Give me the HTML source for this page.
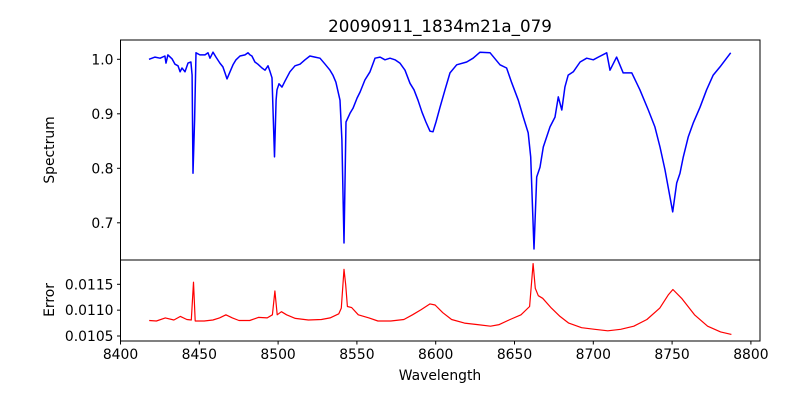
<!DOCTYPE html>
<html><head><meta charset="utf-8"><style>
body{margin:0;background:#fff;}
svg{display:block;font-family:"DejaVu Sans","Liberation Sans",sans-serif;}
</style></head><body>
<svg id="chart" width="800" height="400" viewBox="0 0 800 400" xmlns="http://www.w3.org/2000/svg">
<rect width="800" height="400" fill="#fff"/>
<text x="440" y="32" text-anchor="middle" font-size="16.7">20090911_1834m21a_079</text>
<g id="topg"></g><g id="botg"></g>
<text transform="translate(54,150) rotate(-90)" text-anchor="middle" font-size="13.9">Spectrum</text>
<text transform="translate(54,300) rotate(-90)" text-anchor="middle" font-size="13.9">Error</text>
<text x="440" y="380" text-anchor="middle" font-size="13.9">Wavelength</text>
</svg>
<script>
const specWave=[8418.1,8421.9,8425.1,8428.2,8428.9,8430.1,8432.7,8434.6,8436.5,8437.8,8439.0,8440.9,8442.8,8444.7,8445.4,8446.0,8447.0,8447.9,8450.4,8453.6,8455.5,8456.8,8458.7,8460.6,8463.1,8465.0,8466.3,8467.6,8469.5,8471.4,8473.3,8475.8,8479.0,8480.9,8482.2,8483.4,8485.3,8487.2,8489.8,8491.7,8493.6,8494.9,8496.1,8497.7,8498.7,8499.3,8500.6,8502.5,8504.4,8507.5,8510.7,8513.9,8517.1,8520.2,8523.4,8526.6,8529.8,8532.9,8534.8,8536.7,8539.3,8540.5,8541.8,8543.1,8545.6,8547.5,8550.1,8552.0,8555.1,8558.3,8561.5,8564.7,8567.8,8571.0,8574.2,8577.3,8580.5,8583.7,8586.2,8588.8,8591.3,8593.8,8596.4,8598.3,8600.2,8602.7,8605.9,8609.1,8613.3,8619.7,8623.7,8628.1,8634.5,8640.8,8645.0,8648.2,8652.4,8655.6,8658.7,8660.3,8662.4,8664.1,8666.2,8668.3,8672.5,8675.7,8677.8,8680.0,8682.0,8684.1,8687.3,8691.6,8695.8,8700.0,8703.2,8708.5,8710.6,8714.8,8719.0,8724.4,8729.6,8734.9,8739.1,8742.3,8745.5,8750.4,8752.9,8755.0,8757.1,8760.3,8763.4,8767.7,8771.9,8776.1,8780.4,8784.6,8787.2];
const specFlux=[1.000,1.004,1.002,1.006,0.993,1.008,1.001,0.991,0.988,0.977,0.984,0.977,0.993,0.995,0.971,0.791,0.889,1.012,1.008,1.008,1.012,1.002,1.013,1.004,0.993,0.986,0.975,0.964,0.977,0.990,0.999,1.006,1.008,1.012,1.008,1.006,0.995,0.991,0.984,0.980,0.988,0.977,0.966,0.821,0.925,0.944,0.955,0.949,0.960,0.977,0.988,0.991,0.999,1.006,1.004,1.002,0.991,0.980,0.971,0.958,0.925,0.852,0.663,0.885,0.901,0.910,0.929,0.940,0.962,0.977,1.002,1.004,0.999,1.002,0.999,0.993,0.980,0.956,0.944,0.925,0.903,0.885,0.868,0.867,0.885,0.912,0.944,0.975,0.990,0.995,1.002,1.013,1.012,0.990,0.984,0.957,0.925,0.894,0.865,0.821,0.652,0.784,0.802,0.839,0.876,0.894,0.931,0.907,0.949,0.971,0.977,0.995,1.002,0.999,1.004,1.012,0.980,1.004,0.975,0.975,0.944,0.907,0.876,0.839,0.797,0.720,0.773,0.791,0.821,0.858,0.883,0.912,0.944,0.971,0.986,1.002,1.012];
const errWave=[8418.2,8422.8,8428.4,8433.9,8438.0,8442.1,8444.9,8446.3,8447.4,8453.1,8458.6,8462.8,8466.9,8471.0,8475.2,8482.0,8487.5,8493.1,8496.4,8498.0,8499.4,8502.1,8505.4,8510.9,8519.2,8527.5,8533.0,8538.5,8540.1,8541.8,8542.9,8544.0,8546.7,8550.9,8557.7,8563.3,8571.5,8579.8,8585.3,8590.8,8596.4,8599.6,8604.5,8610.1,8618.3,8626.6,8634.8,8640.3,8647.2,8654.1,8659.6,8661.8,8663.2,8665.1,8667.9,8673.4,8678.9,8684.4,8692.6,8700.9,8709.2,8717.4,8725.7,8734.0,8742.2,8747.7,8750.5,8756.0,8764.2,8772.5,8780.8,8787.6];
const errVal=[0.01080,0.01079,0.01085,0.01081,0.01088,0.01082,0.01081,0.01154,0.01079,0.01079,0.01081,0.01085,0.01091,0.01085,0.01080,0.01080,0.01086,0.01085,0.01091,0.01137,0.01091,0.01097,0.01091,0.01084,0.01081,0.01082,0.01085,0.01093,0.01104,0.01179,0.01149,0.01107,0.01105,0.01091,0.01085,0.01079,0.01079,0.01082,0.01091,0.01101,0.01112,0.01110,0.01095,0.01082,0.01075,0.01072,0.01069,0.01072,0.01082,0.01091,0.01107,0.01190,0.01142,0.01128,0.01123,0.01104,0.01088,0.01075,0.01066,0.01063,0.01060,0.01063,0.01069,0.01082,0.01104,0.01130,0.01140,0.01123,0.01091,0.01069,0.01058,0.01053];
const xTicks=[8400,8450,8500,8550,8600,8650,8700,8750,8800];
const topTicks=[0.7,0.8,0.9,1.0];
const topTickLabels=["0.7","0.8","0.9","1.0"];
const botTicks=[0.0105,0.0110,0.0115];
const botTickLabels=["0.0105","0.0110","0.0115"];

const NS="http://www.w3.org/2000/svg";
const L=120.5,R=760,T1=40,B1=260,T2=260,B2=341;
const xs=v=>120.5+(v-8400)*1.576;
const ys1=v=>59.3+(1.0-v)*545;
const ys2=v=>284.3+(0.0115-v)*51700;
function mk(tag,attrs,parent){const e=document.createElementNS(NS,tag);for(const k in attrs)e.setAttribute(k,attrs[k]);parent.appendChild(e);return e;}
const gTop=document.getElementById('topg'),gBot=document.getElementById('botg');
let d=specWave.map((w,i)=>(i?'L':'M')+xs(w).toFixed(1)+','+ys1(specFlux[i]).toFixed(1)).join('');
const p1=mk('path',{d:d,fill:'none',stroke:'#0000ff','stroke-width':1.5,'stroke-linejoin':'round'},gTop);


d=errWave.map((w,i)=>(i?'L':'M')+xs(w).toFixed(1)+','+ys2(errVal[i]).toFixed(1)).join('');
const p2=mk('path',{d:d,fill:'none',stroke:'#ff0000','stroke-width':1.2,'stroke-linejoin':'round'},gBot);


const f1=mk('rect',{x:L,y:T1,width:R-L,height:B1-T1,fill:'none',stroke:'#000','stroke-width':1},gTop);


const f2=mk('rect',{x:L,y:T2,width:R-L,height:B2-T2,fill:'none',stroke:'#000','stroke-width':1},gBot);


topTicks.forEach((v,i)=>{const y=ys1(v);
mk('line',{x1:L-3.5,x2:L,y1:y,y2:y,stroke:'#000'},gTop);
const t=mk('text',{x:L-7,y:y+5,'text-anchor':'end','font-size':13.9},gTop);t.textContent=topTickLabels[i];

});
botTicks.forEach((v,i)=>{const y=ys2(v);
mk('line',{x1:L-3.5,x2:L,y1:y,y2:y,stroke:'#000'},gBot);
const t=mk('text',{x:L-7,y:y+5,'text-anchor':'end','font-size':13.9},gBot);t.textContent=botTickLabels[i];

});
xTicks.forEach(v=>{const x=xs(v);
mk('line',{x1:x,x2:x,y1:B2,y2:B2+3.5,stroke:'#000'},gBot);
const t=mk('text',{x:x,y:B2+18,'text-anchor':'middle','font-size':13.9},gBot);t.textContent=String(v);

});
</script>
</body></html>
